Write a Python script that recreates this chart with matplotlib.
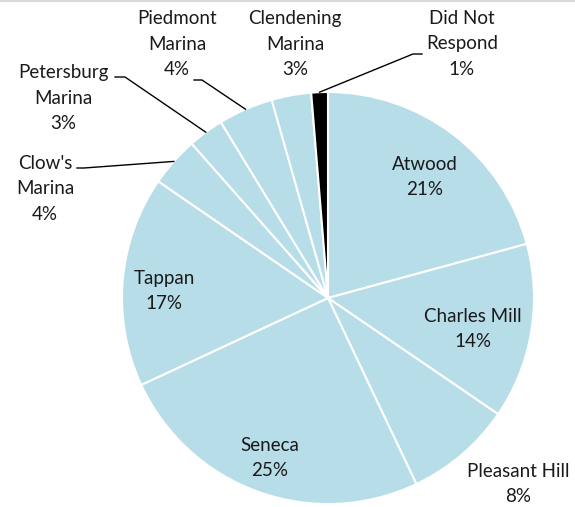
import matplotlib.pyplot as plt
import numpy as np
from matplotlib.lines import Line2D

# shares (percent of respondents)
lakes = ["Atwood", "Charles Mill", "Pleasant Hill", "Seneca", "Tappan",
         "Clow's\nMarina", "Petersburg\nMarina", "Piedmont\nMarina",
         "Clendening\nMarina", "Did Not\nRespond"]
shares = [20.75, 13.75, 8.4, 25.1, 16.5, 3.9, 2.8, 4.3, 3.1, 1.3]
colors = ["#b7dde8"] * 9 + ["#000000"]

W, H = 575, 507
CX, CY, R = 328, H - 298, 206

# label block centres (pixel coords, y down) and leader-line starts
label_pos = [(425, 177), (473, 329), (518, 484), (270, 458), (164, 291),
             (45, 189), (63, 98), (177, 44), (295, 44), (462, 44)]
leader_start = {5: ((77, 168), 7), 6: ((115, 77), 10),
                7: ((194, 80), 8), 9: ((422, 54), -9)}

plt.rcParams["font.family"] = ["Lato", "DejaVu Sans"]

fig = plt.figure(figsize=(W / 100, H / 100), dpi=100)
ax = fig.add_axes([0, 0, 1, 1])
wedges, _ = ax.pie(shares, colors=colors, startangle=90, counterclock=False,
                   center=(CX, CY), radius=R,
                   wedgeprops=dict(edgecolor="white", linewidth=1.5))
ax.set_xlim(0, W)
ax.set_ylim(0, H)
ax.axis("off")

total = sum(shares)
for i, (w, name) in enumerate(zip(wedges, lakes)):
    pct = round(shares[i] / total * 100)
    x, y = label_pos[i]
    ax.text(x, H - y, f"{name}\n{pct}%", ha="center", va="center",
            fontsize=13.5, color="#1a1a1a", linespacing=1.62)
    if i in leader_start:
        (sx, sy), dx = leader_start[i]
        mid = np.deg2rad((w.theta1 + w.theta2) / 2)
        ex, ey = CX + R * np.cos(mid), CY + R * np.sin(mid)
        ax.add_line(Line2D([sx, sx + dx, ex], [H - sy, H - sy, ey],
                           color="black", linewidth=1.0))

ax.add_line(Line2D([0, W], [H - 0.8, H - 0.8], color="#d9d9d9", linewidth=1.5))

fig.savefig("out.png", dpi=100)
